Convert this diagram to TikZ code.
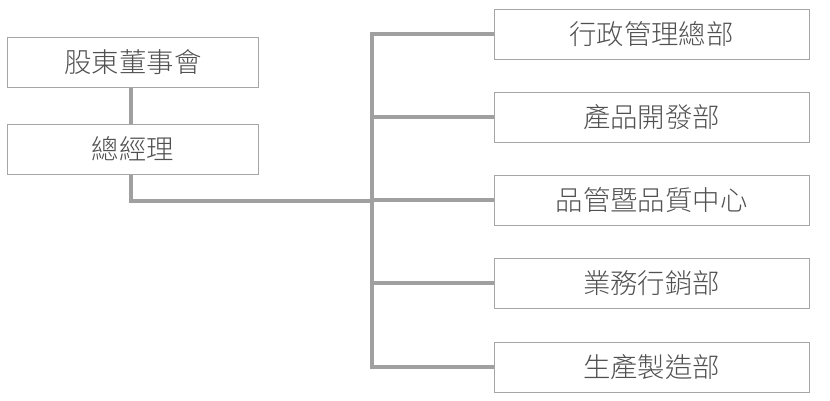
\documentclass[tikz,border=0pt]{standalone}
\usepackage{fontspec}
\newfontfamily\cjk{Noto Sans CJK TC Light}
\begin{document}
\begin{tikzpicture}[x=1bp,y=-1bp,
  box/.style={draw=boxgray,line width=1bp,minimum width=250bp,minimum height=50bp,inner sep=0pt,font=\cjk\fontsize{27.5}{30}\selectfont,text=textgray},
  rbox/.style={box,minimum width=315bp},
  link/.style={draw=linegray,line width=3.5bp}]
\definecolor{boxgray}{HTML}{A6A6A6}
\definecolor{linegray}{HTML}{A0A0A0}
\definecolor{textgray}{HTML}{505050}
\useasboundingbox (0,0) rectangle (830,400);
\node[box] (gm0) at (133,62) {股東董事會};
\node[box] (gm) at (133,149) {總經理};
\node[rbox] (d1) at (651.5,34) {行政管理總部};
\node[rbox] (d2) at (651.5,117) {產品開發部};
\node[rbox] (d3) at (651.5,200) {品管暨品質中心};
\node[rbox] (d4) at (651.5,283) {業務行銷部};
\node[rbox] (d5) at (651.5,367) {生產製造部};
\coordinate (trunkTop) at (372,34);
\coordinate (trunkBot) at (372,367);
\coordinate (junc) at (372,201);
\draw[link] (gm0.south -| 131,0) -- (gm.north -| 131,0);
\draw[link] (gm.south -| 131,0) |- (junc);
\draw[link,line cap=rect] (trunkTop) -- (trunkBot);
\foreach \i in {1,...,5} {
  \draw[link] (d\i.west -| trunkTop) -- (d\i.west);
}
\end{tikzpicture}
\end{document}
